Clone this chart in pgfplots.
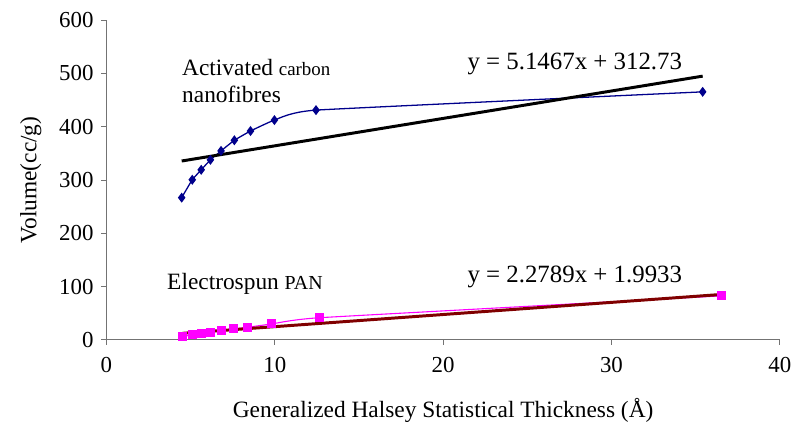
\documentclass[border=0pt]{standalone}
\usepackage{pgfplots}
\pgfplotsset{compat=1.18}
\usepackage{fontspec}
\setmainfont{Liberation Serif}
\definecolor{navyb}{RGB}{0,0,140}
\definecolor{pinkm}{RGB}{255,0,255}
\definecolor{maroon}{RGB}{128,0,0}
\begin{document}
\fontsize{23.5bp}{28bp}\selectfont
\begin{tikzpicture}
\path (-107bp,-81.3bp) rectangle (692bp,341.7bp);
\begin{axis}[
  at={(0,0)}, anchor=south west,
  scale only axis, width=677bp, height=321.4bp,
  xmin=0, xmax=40, ymin=0, ymax=600,
  xtick={0,10,20,30,40}, ytick={0,100,...,600},
  axis x line=bottom, axis y line=left,
  axis line style={-, draw=black!55, line width=1pt},
  tick style={draw=black!55, line width=1pt},
  tick align=outside, major tick length=5bp,
  /pgf/number format/assume math mode=true,
  ticklabel style={font=\fontsize{23bp}{27bp}\selectfont},
  xticklabel style={yshift=-4bp},
  label style={font=\fontsize{23.5bp}{28bp}\selectfont},
  xlabel={Generalized Halsey Statistical Thickness (Å)},
  ylabel={Volume(cc/g)},
  xlabel style={yshift=-10bp},
  ylabel style={yshift=2bp},
  clip=false,
]
\addplot[navyb, line width=1.3pt, smooth, tension=0.22, mark=diamond*, mark size=4bp, mark options={fill=navyb}] coordinates {
(4.47,266.9) (5.10,300.5) (5.63,319.2) (6.18,337.9) (6.81,354.7) (7.60,374.6) (8.56,392.0) (9.98,412.5) (12.45,431.2) (35.42,465.5)};
\addplot[pinkm, line width=1.1pt, smooth, tension=0.22, mark=square*, mark size=4bp, mark options={fill=pinkm}] coordinates {
(4.51,6.3) (5.10,9.3) (5.63,12.5) (6.18,14.4) (6.81,16.8) (7.56,20.5) (8.40,23.7) (9.82,29.9) (12.68,41.6) (36.54,82.6)};
\addplot[black, line width=3pt] coordinates {(4.47,335.7) (35.42,495.0)};
\addplot[maroon, line width=3pt] coordinates {(4.51,12.27) (36.54,85.26)};
\node[anchor=west, inner sep=0pt] at (axis cs:4.49,511) {Activated {\fontsize{19bp}{22bp}\selectfont carbon}};
\node[anchor=west, inner sep=0pt] at (axis cs:4.49,460.5) {nanofibres};
\node[anchor=west, inner sep=0pt, font=\fontsize{25bp}{30bp}\selectfont] at (axis cs:21.44,518) {y = 5.1467x + 312.73};
\node[anchor=west, inner sep=0pt] at (axis cs:3.60,105.8) {Electrospun {\fontsize{20bp}{24bp}\selectfont PAN}};
\node[anchor=west, inner sep=0pt, font=\fontsize{25bp}{30bp}\selectfont] at (axis cs:21.44,118.9) {y = 2.2789x + 1.9933};
\end{axis}
\end{tikzpicture}
\end{document}
